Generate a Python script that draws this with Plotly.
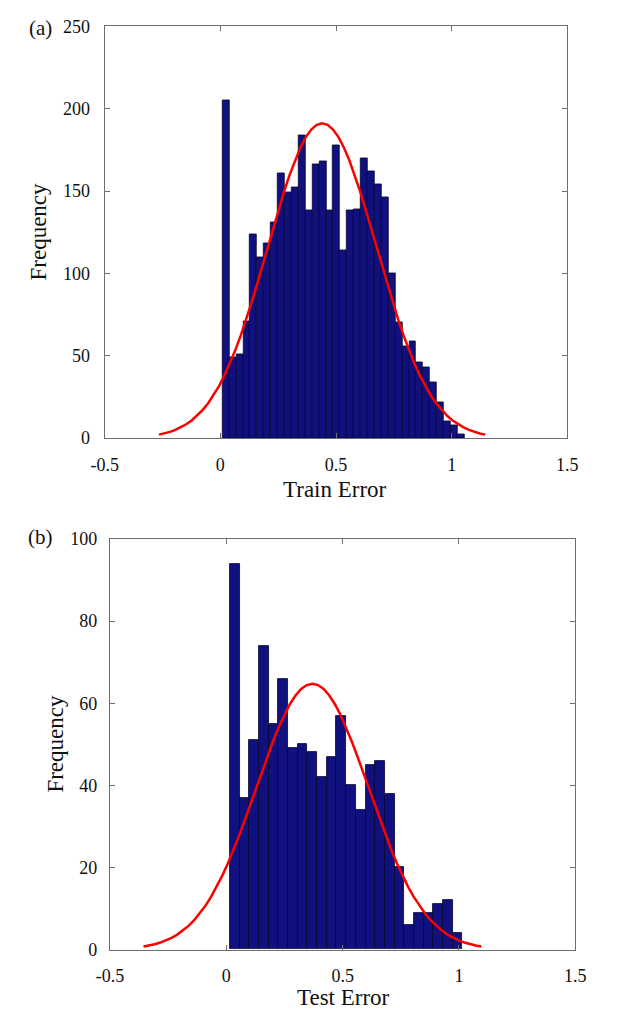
import numpy as np
import plotly.graph_objects as go

W, H = 618, 1020

# Histogram counts (Frequency) per bin
train_counts = [205, 49, 51, 71, 124, 110, 118, 131, 161, 149, 152, 184, 138, 166, 168,
                138, 178, 114, 138, 139, 170, 162, 154, 146, 100, 70, 56, 59, 46, 43,
                34, 22, 10, 8, 2]
train_start, train_width = 0.009, 0.0299
train_mu, train_sigma = 0.44, 0.235

test_counts = [94, 37, 51, 74, 55, 66, 49, 50, 48, 42, 47, 57, 40, 34, 45, 46, 38, 20,
               6, 9, 9, 11, 12, 4]
test_start, test_width = 0.0157, 0.0416
test_mu, test_sigma = 0.37, 0.242

x_ticks = [-0.5, 0, 0.5, 1, 1.5]
x_ticktext = ["-0.5", "0", "0.5", "1", "1.5"]

FONT = "Liberation Serif"
BAR_FILL = "#10107f"
BAR_EDGE = "#050530"
AXIS_GRAY = "#6e6e6e"


def px_x(p):
    return p / W


def px_y(p):
    return 1 - p / H


def normal_fit(counts, start, width, mu, sigma):
    n = float(np.sum(counts))
    xs = np.arange(-3.0, 3.0001, 0.1) * sigma + mu
    ys = n * width * np.exp(-0.5 * ((xs - mu) / sigma) ** 2) / (sigma * np.sqrt(2 * np.pi))
    return xs, ys


def centers(counts, start, width):
    return start + width * (np.arange(len(counts)) + 0.5)


fig = go.Figure()

panels = [
    (train_counts, train_start, train_width, train_mu, train_sigma, "x", "y"),
    (test_counts, test_start, test_width, test_mu, test_sigma, "x2", "y2"),
]
for counts, start, width, mu, sigma, xa, ya in panels:
    fig.add_trace(go.Bar(
        x=centers(counts, start, width), y=counts, width=width,
        marker=dict(color=BAR_FILL, line=dict(color=BAR_EDGE, width=0.8)),
        xaxis=xa, yaxis=ya, showlegend=False, hoverinfo="skip"))
    cx, cy = normal_fit(counts, start, width, mu, sigma)
    fig.add_trace(go.Scatter(
        x=cx, y=cy, mode="lines", line=dict(color="#ff0000", width=2.5),
        xaxis=xa, yaxis=ya, showlegend=False, hoverinfo="skip"))

axis_common = dict(
    showline=True, linecolor=AXIS_GRAY, linewidth=1, mirror="ticks",
    ticks="inside", ticklen=5, tickcolor=AXIS_GRAY, showgrid=False, zeroline=False,
    tickfont=dict(family=FONT, size=18, color="#111111"),
)

fig.update_layout(
    width=W, height=H, margin=dict(l=0, r=0, t=0, b=0),
    paper_bgcolor="white", plot_bgcolor="white", bargap=0,
    xaxis=dict(domain=[px_x(94.5), px_x(576.7)], range=[-0.5, 1.5], anchor="y",
               tickvals=x_ticks, ticktext=x_ticktext, ticklabelstandoff=10, **axis_common),
    yaxis=dict(domain=[px_y(436.7), px_y(16.7)], range=[0, 250], anchor="x",
               tickvals=[0, 50, 100, 150, 200, 250], ticklabelstandoff=10, **axis_common),
    xaxis2=dict(domain=[px_x(100), px_x(585)], range=[-0.5, 1.5], anchor="y2",
                tickvals=x_ticks, ticktext=x_ticktext, ticklabelstandoff=10, **axis_common),
    yaxis2=dict(domain=[px_y(958.3), px_y(539.6)], range=[0, 100], anchor="x2",
                tickvals=[0, 20, 40, 60, 80, 100], ticklabelstandoff=8, **axis_common),
)

label_font = dict(family=FONT, size=23, color="#111111")
texts = [
    ("Train Error", 335, 489, 0),
    ("Test Error", 343, 1007, 0),
    ("Frequency", 26, 226, -90),
    ("Frequency", 43, 748, -90),
]
for txt, x, y, ang in texts:
    fig.add_annotation(text=txt, x=px_x(x), y=px_y(y), xref="paper", yref="paper",
                       showarrow=False, textangle=ang, font=label_font,
                       xanchor="center", yanchor="middle")

for txt, x, y in [("(a)", 28, 18), ("(b)", 28, 538)]:
    fig.add_annotation(text=txt, x=px_x(x), y=px_y(y), xref="paper", yref="paper",
                       showarrow=False, font=dict(family=FONT, size=21, color="#111111"),
                       xanchor="center", yanchor="middle")

# Figure fills the whole page: drop the default body margin so nothing scrolls.
fig.write_html("out.html",
               post_script="document.body.style.margin='0';"
                           "document.body.style.overflow='hidden';")
